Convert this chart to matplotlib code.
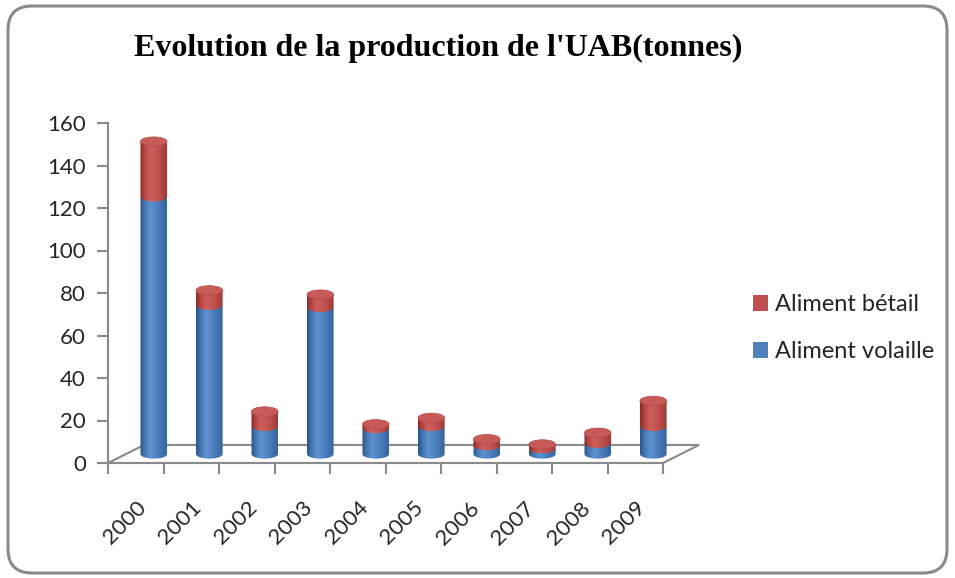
import matplotlib
matplotlib.use('Agg')
import matplotlib.pyplot as plt
import numpy as np
from matplotlib.patches import Polygon, Ellipse, FancyBboxPatch, Patch
from matplotlib.colors import LinearSegmentedColormap

# ---- data ----
years = ['2000', '2001', '2002', '2003', '2004', '2005', '2006', '2007', '2008', '2009']
volaille = [121, 70, 13, 69, 12, 13, 4, 2.5, 5, 13]
betail = [26, 7, 7, 6, 2, 4, 3, 2, 5, 12]
series_names = ['Aliment volaille', 'Aliment bétail']
y_ticks = [0, 20, 40, 60, 80, 100, 120, 140, 160]
title = "Evolution de la production de l'UAB(tonnes)"

W, H = 955, 578
fig = plt.figure(figsize=(W / 100, H / 100), dpi=100)
fig.patch.set_facecolor('white')

# background frame (pixel coordinates)
bg = fig.add_axes([0, 0, 1, 1])
bg.set_xlim(0, W)
bg.set_ylim(H, 0)
bg.axis('off')
bg.add_patch(FancyBboxPatch((8, 6), 939, 567, boxstyle='round,pad=0,rounding_size=24',
                            fc='white', ec='#8a8a8a', lw=2.2))

fig.text(438 / W, 1 - 48 / H, title, ha='center', va='center',
         fontfamily='Liberation Serif', fontweight='bold', fontsize=23, color='black')

ax = fig.add_axes([108 / W, (H - 463) / H, (663 - 108) / W, (463 - 123) / H])
ax.set_facecolor('none')

dx, dy = 0.65, 8.5      # depth of the floor (category units, value units)
w, eh = 0.48, 4.4        # bar width and ellipse height

floor = Polygon([(-0.5, 0), (9.5, 0), (9.5 + dx, dy), (-0.5 + dx, dy)], closed=True,
                fc='white', ec='#8a8a8a', lw=1.5, clip_on=False, zorder=1)
ax.add_patch(floor)

def make_cmap(dark, base, light, mid, edge):
    return LinearSegmentedColormap.from_list('c', [(0, dark), (0.18, base), (0.38, light),
                                                   (0.7, mid), (1, edge)])

blue_cmap = make_cmap('#2b5486', '#4677b2', '#5f93d2', '#4a7cba', '#36639c')
red_cmap = make_cmap('#862c2a', '#b84846', '#cf5f5b', '#c0504d', '#9b3836')
grad = np.linspace(0, 1, 256).reshape(1, -1)

def draw_segment(xc, y0, y1, cmap, z):
    t = np.linspace(0, -np.pi, 40)
    pts = [(xc + w / 2 * np.cos(a), y0 + eh / 2 * np.sin(a)) for a in t]
    pts += [(xc - w / 2, y1), (xc + w / 2, y1)]
    poly = Polygon(pts, closed=True, fc='none', ec='none', clip_on=False, zorder=z)
    ax.add_patch(poly)
    im = ax.imshow(grad, cmap=cmap, extent=(xc - w / 2, xc + w / 2, y0 - eh / 2, y1),
                   aspect='auto', interpolation='bilinear', zorder=z)
    im.set_clip_path(poly)
    im.set_clip_box(fig.bbox)

for i in range(len(years)):
    xc = i + dx / 2
    base = dy / 2
    b1 = base + volaille[i]
    b2 = b1 + betail[i]
    z = 2 + i * 0.01
    draw_segment(xc, base, b1, blue_cmap, z)
    draw_segment(xc, b1, b2, red_cmap, z + 0.001)
    cap = Ellipse((xc, b2), w, eh, fc='#c85b58', ec='#b04a47', lw=0.5, clip_on=False,
                  zorder=z + 0.002)
    ax.add_patch(cap)

ax.set_xlim(-0.5, 9.5)
ax.set_ylim(0, 160)

for s in ['top', 'right']:
    ax.spines[s].set_visible(False)
for s in ['left', 'bottom']:
    ax.spines[s].set_color('#8a8a8a')
    ax.spines[s].set_linewidth(1.5)

ax.set_yticks(y_ticks)
ax.set_yticklabels([str(v) for v in y_ticks])
ax.set_xticks(np.arange(-0.5, 10, 1))
ax.set_xticklabels([])
ax.set_xticks(np.arange(len(years)), minor=True)
ax.set_xticklabels(years, minor=True, rotation=45, ha='right', va='top', rotation_mode='anchor')
ax.tick_params(axis='x', which='minor', length=0, pad=25)
ax.tick_params(axis='both', which='major', length=8, width=1.5, color='#8a8a8a')
for lab in ax.get_yticklabels() + ax.get_xticklabels(minor=True):
    lab.set_fontfamily('Lato')
    lab.set_fontsize(16)
    lab.set_color('#262626')
ax.tick_params(axis='y', pad=8)

handles = [Patch(fc='#c0504d', ec='none'), Patch(fc='#4f81bd', ec='none')]
leg = fig.legend(handles, [series_names[1], series_names[0]], loc='center left',
                 bbox_to_anchor=(753 / W, 1 - 328 / H), frameon=False, borderpad=0,
                 borderaxespad=0, prop={'family': 'Lato', 'size': 17},
                 handlelength=0.65, handleheight=0.65,
                 handletextpad=0.3, labelspacing=1.1)
for t in leg.get_texts():
    t.set_color('#262626')

fig.savefig('out.png', dpi=100, facecolor='white')
